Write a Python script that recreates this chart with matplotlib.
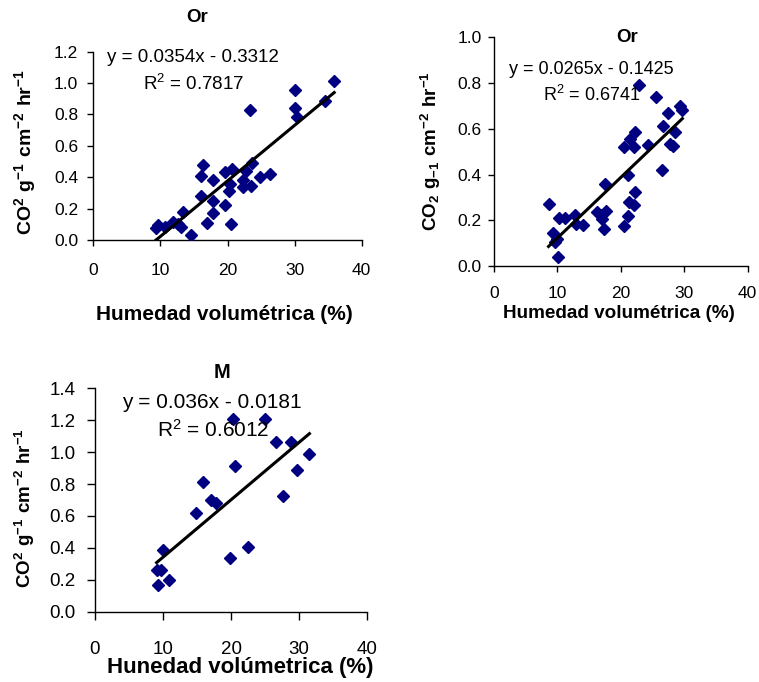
import numpy as np
import matplotlib
matplotlib.use("Agg")
import matplotlib.pyplot as plt

plt.rcParams['font.family'] = ['Liberation Sans', 'DejaVu Sans']
plt.rcParams['mathtext.fontset'] = 'custom'
plt.rcParams['mathtext.rm'] = 'Liberation Sans'
plt.rcParams['mathtext.bf'] = 'Liberation Sans:bold'
plt.rcParams['mathtext.default'] = 'regular'

W, H = 759, 682

# top left panel "Or"
or1_x = [9.3, 9.7, 10.7, 11.9, 12.6, 13.1, 13.4, 14.6, 16.9, 17.8, 17.8, 16.0, 16.1, 16.4,
         17.8, 19.6, 20.5, 20.2, 20.3, 19.6, 20.6, 22.3, 22.3, 22.8, 23.6, 23.5, 24.8, 26.4,
         23.4, 30.0, 30.0, 30.3, 34.5, 35.9]
or1_y = [0.075, 0.095, 0.085, 0.115, 0.10, 0.085, 0.18, 0.035, 0.11, 0.17, 0.25, 0.28, 0.41, 0.48,
         0.38, 0.22, 0.10, 0.31, 0.36, 0.435, 0.455, 0.34, 0.38, 0.44, 0.49, 0.345, 0.40, 0.42,
         0.83, 0.955, 0.84, 0.785, 0.885, 1.015]
or1_fit = (0.0354, -0.3312)
or1_eq = ['y = 0.0354x - 0.3312', 'R$^2$ = 0.7817']

# top right panel "Or"
or2_x = [8.6, 9.35, 9.6, 10.0, 10.15, 10.3, 11.2, 12.8, 12.9, 14.0, 16.2, 16.8, 17.0, 17.4,
         17.5, 17.6, 20.5, 20.5, 21.1, 21.1, 21.3, 22.1, 22.2, 21.4, 22.1, 22.3, 22.9, 24.3,
         25.5, 26.5, 26.6, 27.5, 27.7, 28.2, 28.5, 29.3, 29.7]
or2_y = [0.27, 0.145, 0.105, 0.12, 0.04, 0.21, 0.21, 0.225, 0.185, 0.18, 0.235, 0.225, 0.205, 0.16,
         0.36, 0.24, 0.52, 0.175, 0.40, 0.22, 0.28, 0.265, 0.325, 0.555, 0.52, 0.585, 0.79, 0.53,
         0.74, 0.42, 0.61, 0.67, 0.535, 0.525, 0.585, 0.70, 0.68]
or2_fit = (0.0265, -0.1425)
or2_eq = ['y = 0.0265x - 0.1425', 'R$^2$ = 0.6741']

# bottom panel "M"
m_x = [9.2, 9.05, 9.7, 10.0, 10.9, 14.8, 15.9, 17.0, 17.8, 19.8, 20.3, 20.5, 22.5, 25.0,
       26.6, 27.6, 28.8, 29.7, 31.5]
m_y = [0.17, 0.26, 0.26, 0.385, 0.20, 0.62, 0.81, 0.70, 0.68, 0.335, 1.21, 0.915, 0.405, 1.21,
       1.065, 0.725, 1.065, 0.89, 0.99]
m_fit = (0.036, -0.0181)
m_eq = ['y = 0.036x - 0.0181', 'R$^2$ = 0.6012']

xticks = [0, 10, 20, 30, 40]


def fp(x, y):
    return x / W, 1 - y / H


def rect(left, top, right, bottom):
    return [left / W, 1 - bottom / H, (right - left) / W, (bottom - top) / H]


def panel(fig, r, xs, ys, fit, ymax, fs, xpad, ypad, tlen):
    ax = fig.add_axes(r)
    ax.plot(xs, ys, 'D', color='#000080', ms=6, mec='#000080', zorder=3)
    x0, x1 = min(xs), max(xs)
    ax.plot([x0, x1], [fit[0] * x0 + fit[1], fit[0] * x1 + fit[1]], color='black', lw=2.2, zorder=4)
    ax.set_xlim(0, 40)
    ax.set_ylim(0, ymax)
    ax.set_xticks(xticks)
    yt = np.arange(0, ymax + 0.01, 0.2)
    ax.set_yticks(yt)
    ax.set_yticklabels(['%.1f' % v for v in yt])
    ax.spines['top'].set_visible(False)
    ax.spines['right'].set_visible(False)
    for s in ['left', 'bottom']:
        ax.spines[s].set_linewidth(1.0)
        ax.spines[s].set_clip_on(False)
    ax.tick_params(direction='out', length=tlen, width=1, labelsize=fs)
    ax.tick_params(axis='x', pad=xpad)
    ax.tick_params(axis='y', pad=ypad)
    ax.patch.set_visible(False)
    return ax


fig = plt.figure(figsize=(W / 100, H / 100), dpi=100)

ax1 = panel(fig, rect(93.3, 51.7, 361.7, 240), or1_x, or1_y, or1_fit, 1.2, 12.5, 12, 6.5, 4.5)
fig.text(*fp(197, 18), 'Or', ha='center', va='center', fontsize=13.5, fontweight='bold')
fig.text(*fp(192.5, 58), or1_eq[0], ha='center', va='center', fontsize=13.5)
fig.text(*fp(194, 84), or1_eq[1], ha='center', va='center', fontsize=13.5)
fig.text(*fp(224, 314), 'Humedad volumétrica (%)', ha='center', va='center',
         fontsize=15, fontweight='bold')
fig.text(*fp(25, 152), r'$\mathbf{CO^2\ g^{-1}\ cm^{-2}\ hr^{-1}}$', ha='center', va='center',
         rotation=90, fontsize=14)

ax2 = panel(fig, rect(494, 37.3, 747.7, 266), or2_x, or2_y, or2_fit, 1.0, 12.5, 10, 4.5, 4.5)
fig.text(*fp(627, 37), 'Or', ha='center', va='center', fontsize=13.5, fontweight='bold')
fig.text(*fp(591.5, 70), or2_eq[0], ha='center', va='center', fontsize=13)
fig.text(*fp(592, 95), or2_eq[1], ha='center', va='center', fontsize=13)
fig.text(*fp(619, 313), 'Humedad volumétrica (%)', ha='center', va='center',
         fontsize=13.6, fontweight='bold')
fig.text(*fp(431, 151), r'$\mathbf{CO_2\ g_{-1}\ cm^{-2}\ hr^{-1}}$', ha='center', va='center',
         rotation=90, fontsize=13.5)

ax3 = panel(fig, rect(95, 388.3, 367.3, 611.7), m_x, m_y, m_fit, 1.4, 13.5, 15, 8, 6)
fig.text(*fp(222, 372), 'M', ha='center', va='center', fontsize=14.5, fontweight='bold')
fig.text(*fp(212, 403), m_eq[0], ha='center', va='center', fontsize=15)
fig.text(*fp(213, 430), m_eq[1], ha='center', va='center', fontsize=15)
fig.text(*fp(240, 667), 'Hunedad volúmetrica (%)', ha='center', va='center',
         fontsize=16, fontweight='bold')
fig.text(*fp(25, 508), r'$\mathbf{CO^2\ g^{-1}\ cm^{-2}\ hr^{-1}}$', ha='center', va='center',
         rotation=90, fontsize=13.5)

fig.savefig('out.png', dpi=100)
